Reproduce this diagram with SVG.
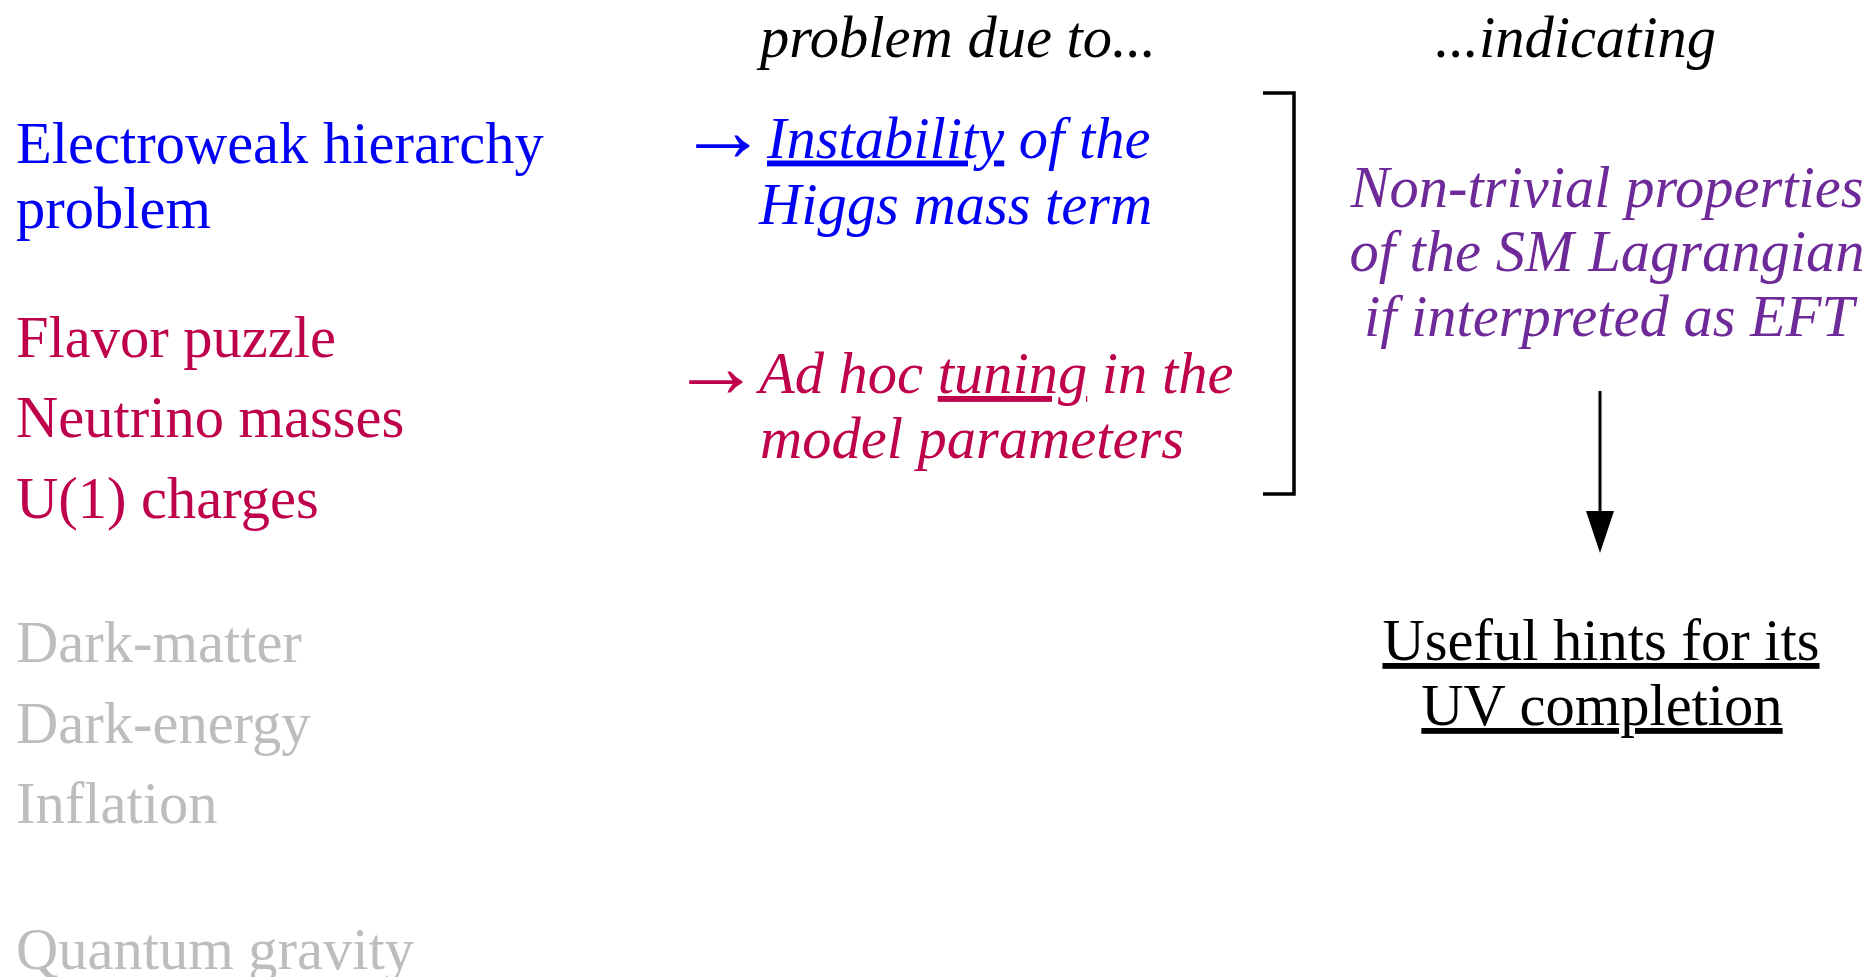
<svg xmlns="http://www.w3.org/2000/svg" width="1868" height="977" viewBox="0 0 1868 977">
<style>
text{font-family:"Liberation Serif","Times New Roman",serif;font-size:58.5px}
.it{font-style:italic}
.blue{fill:#0000F5}
.red{fill:#BF004B}
.pur{fill:#6E2A98}
.grey{fill:#BDBDBD}
.blk{fill:#000}
.u{text-decoration:underline}
.mid{text-anchor:middle}
.arr{font-size:90px}
</style>
<rect width="1868" height="977" fill="#fff"/>
<g id="headers">
<text class="it blk" x="760" y="57">problem due to...</text>
<text class="it blk" x="1435" y="57">...indicating</text>
</g>
<g id="ew-problem">
<text class="blue" x="16" y="163">Electroweak hierarchy</text>
<text class="blue" x="16" y="228">problem</text>
</g>
<g id="flavor">
<text class="red" x="16" y="357">Flavor puzzle</text>
<text class="red" x="16" y="437">Neutrino masses</text>
<text class="red" x="16" y="518">U(1) charges</text>
</g>
<g id="cosmo">
<text class="grey" x="16" y="662">Dark-matter</text>
<text class="grey" x="16" y="743">Dark-energy</text>
<text class="grey" x="16" y="823">Inflation</text>
<text class="grey" x="16" y="969">Quantum gravity</text>
</g>
<g id="instability">
<text class="blue arr" x="678" y="161">→</text>
<text class="it blue" x="767" y="157.5"><tspan class="u">Instability</tspan> of the</text>
<text class="it blue" x="759" y="224">Higgs mass term</text>
</g>
<g id="tuning">
<text class="red arr" x="671" y="397">→</text>
<text class="it red" x="759" y="393">Ad hoc <tspan class="u">tuning</tspan> in the</text>
<text class="it red" x="760" y="458">model parameters</text>
</g>
<g id="eft">
<text class="it pur mid" x="1607" y="207">Non-trivial properties</text>
<text class="it pur mid" x="1607" y="271">of the SM Lagrangian</text>
<text class="it pur mid" x="1609" y="336">if interpreted as EFT</text>
</g>
<g id="uv">
<text class="blk mid u" x="1601" y="660">Useful hints for its</text>
<text class="blk mid u" x="1602" y="725">UV completion</text>
</g>
<g id="connectors">
<polyline points="1263,93 1294,93 1294,494 1263,494" fill="none" stroke="#000" stroke-width="3.5"/>
<line x1="1600" y1="391" x2="1600" y2="514" stroke="#000" stroke-width="3"/>
<polygon points="1586,511 1614,511 1600,553" fill="#000"/>
</g>
</svg>
